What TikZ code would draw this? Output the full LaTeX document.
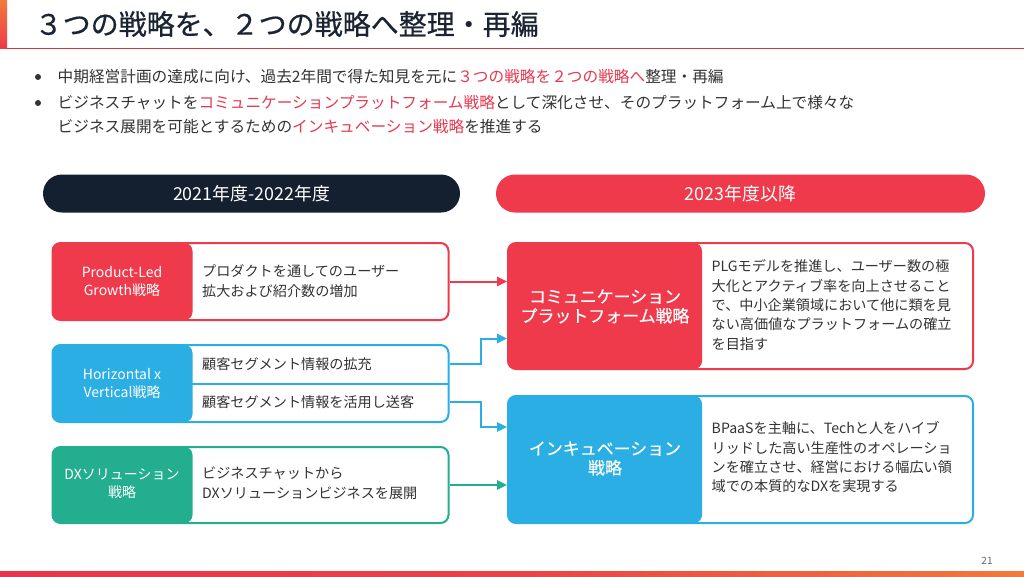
\documentclass[tikz,border=0pt]{standalone}
\usepackage{fontspec}
\setmainfont{Noto Sans CJK JP}
\newfontfamily\medfont[FakeBold=0.5]{Noto Sans CJK JP}
\usetikzlibrary{arrows.meta}
\definecolor{navy}{HTML}{14202F}
\definecolor{titlec}{HTML}{1B2433}
\definecolor{cred}{HTML}{EE3A4B}
\definecolor{cblue}{HTML}{2BAEE3}
\definecolor{cgreen}{HTML}{22AE8F}
\definecolor{txt}{HTML}{333333}
\definecolor{hl}{HTML}{E8384F}
\definecolor{barorange}{HTML}{F07A3C}
\definecolor{barred}{HTML}{E8344A}
\definecolor{pnum}{HTML}{666666}
\tikzset{
  combo/.style 2 args={draw=#1, fill=white, line width=1.5pt, rounded corners=6pt,
    inner sep=0pt, path picture={\fill[#1] (path picture bounding box.north west) rectangle ([xshift=#2]path picture bounding box.south west);}},
  pill/.style={rounded corners=14.25pt, minimum height=28.5pt, inner sep=0pt,
    text=white, font=\fontsize{13.4}{15}\selectfont},
  lbl/.style={text=white, align=center, font=\fontsize{10.5}{13.5}\selectfont},
  biglbl/.style={text=white, align=center, font=\medfont\fontsize{12.7}{14.5}\selectfont},
  desc/.style={text=txt, anchor=west, align=left, font=\fontsize{10.6}{15}\selectfont},
  rdesc/.style={text=txt, anchor=west, align=left, font=\fontsize{10.6}{14.5}\selectfont},
  body/.style={text=txt, anchor=west, align=left, font=\fontsize{11.75}{18}\selectfont},
  arr/.style={line width=1.5pt, -{Triangle[length=7.5pt,width=7pt]}},
}
\begin{document}
\begin{tikzpicture}[x=0.75pt,y=-0.75pt]
\useasboundingbox (0,0) rectangle (1024,576);
\fill[white] (0,0) rectangle (1024,576);
% title
\shade[top color=barorange, bottom color=cred] (0,0) rectangle (7,48);
\draw[cred!90!black, line width=0.75pt] (7,48) -- (1024,48);
\node[anchor=west, text=titlec, font=\medfont\fontsize{21}{25}\selectfont] (title) at (30,24) {３つの戦略を、２つの戦略へ整理・再編};
% bullets
\fill[txt] (38,77) circle (3);
\fill[txt] (38,103) circle (3);
\node[body] (b1) at (53,77) {中期経営計画の達成に向け、過去2年間で得た知見を元に\textcolor{hl}{３つの戦略を２つの戦略へ}整理・再編};
\node[body] (b2) at (53,115) {ビジネスチャットを\textcolor{hl}{コミュニケーションプラットフォーム戦略}として深化させ、そのプラットフォーム上で様々な\\ビジネス展開を可能とするための\textcolor{hl}{インキュベーション戦略}を推進する};
% pills
\node[pill, fill=navy, minimum width=312.75pt] (p1) at (251.5,193.5) {2021年度-2022年度};
\node[pill, fill=cred, minimum width=366.75pt] (p2) at (740.5,193.5) {2023年度以降};
% left boxes
\node[combo={cred}{105pt}, minimum width=297pt, minimum height=57.75pt] (plg) at (250.5,281.5) {};
\node[combo={cblue}{105pt}, minimum width=297pt, minimum height=57.75pt] (hv) at (250.5,383.5) {};
\node[combo={cgreen}{105pt}, minimum width=297pt, minimum height=57pt] (dx) at (250.5,485) {};
\draw[cblue, line width=1.5pt] (192,383.5) -- (449,383.5);
\node[lbl] (plgl) at (122,281.5) {Product-Led\\Growth戦略};
\node[lbl] (hvl) at (122,383) {Horizontal x\\Vertical戦略};
\node[lbl] (dxl) at (122,484) {DXソリューション\\戦略};
\node[desc] (plgd) at (197.5,281) {プロダクトを通してのユーザー\\拡大および紹介数の増加};
\node[desc] (hv1) at (197.5,364) {顧客セグメント情報の拡充};
\node[desc] (hv2) at (197.5,402) {顧客セグメント情報を活用し送客};
\node[desc] (dxd) at (197.5,483) {ビジネスチャットから\\DXソリューションビジネスを展開};
% right boxes
\node[combo={cred}{145.5pt}, minimum width=348.75pt, minimum height=94.5pt] (comm) at (740.5,306) {};
\node[combo={cblue}{145.5pt}, minimum width=348.75pt, minimum height=95.25pt] (inc) at (740.5,459.5) {};
\node[biglbl] (comml) at (605,306.5) {コミュニケーション\\プラットフォーム戦略};
\node[biglbl] (incl) at (605,458.5) {インキュベーション\\戦略};
\node[rdesc] (commd) at (707,305) {PLGモデルを推進し、ユーザー数の極\\大化とアクティブ率を向上させること\\で、中小企業領域において他に類を見\\ない高価値なプラットフォームの確立\\を目指す};
\node[rdesc] (incd) at (707,457.5) {BPaaSを主軸に、Techと人をハイブ\\リッドした高い生産性のオペレーショ\\ンを確立させ、経営における幅広い領\\域での本質的なDXを実現する};
% connectors
\draw[arr, cred] (plg.east) -- (plg.east -| comm.west);
\draw[arr, cblue] (plg.east |- hv1) -- ++(31,0) |- ([yshift=-24.4pt]comm.west);
\draw[arr, cblue] (plg.east |- hv2) -- ++(31,0) |- ([yshift=24.4pt]inc.west);
\draw[arr, cgreen] (dx.east) -- (dx.east -| inc.west);
% footer
\node[text=pnum, font=\fontsize{7.5}{9}\selectfont] (pg) at (987,561) {21};
\shade[left color=barred, right color=barorange, middle color=barred!80!barorange] (0,571) rectangle (1024,576);
\end{tikzpicture}
\end{document}
